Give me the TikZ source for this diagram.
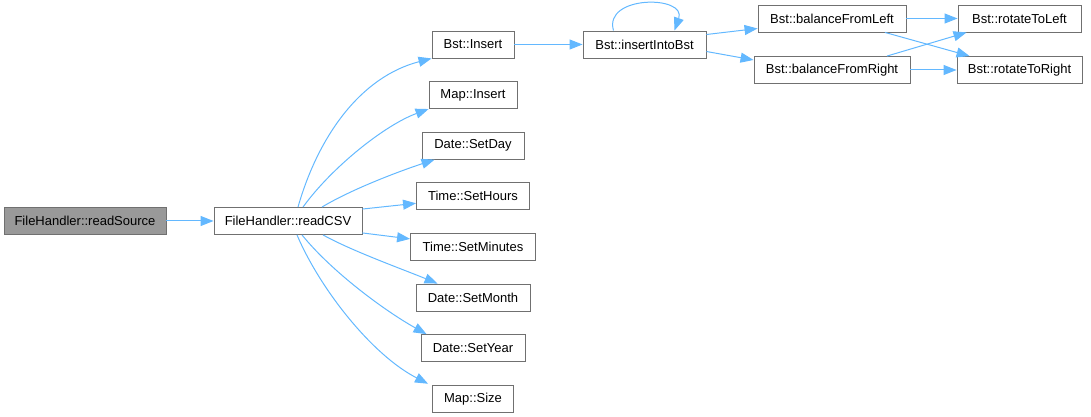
\documentclass[tikz,border=0pt]{standalone}
\usepackage{fontspec}
\setmainfont{Liberation Sans}
\usetikzlibrary{arrows.meta,positioning}

\definecolor{edgeblue}{HTML}{63B8FF}
\definecolor{boxgray}{HTML}{707070}
\definecolor{rootfill}{HTML}{999999}

\begin{document}
\begin{tikzpicture}[x=1pt, y=1pt,
        fn/.style={draw=boxgray, fill=white, rectangle, line width=0.9pt,
            minimum height=27pt, inner sep=2pt, font=\fontsize{13}{15}\selectfont},
        root/.style={fn, fill=rootfill},
        call/.style={draw=edgeblue, line width=1pt,
            -{Triangle[length=13pt, width=10pt]}}]
        \useasboundingbox (0,0) rectangle (1091,417);

        \node[root, minimum width=162pt] (rsrc) at (85,196) {FileHandler::readSource};
        \node[fn, minimum width=148pt] (csv) at (288,196) {FileHandler::readCSV};

        % callees of readCSV
        \node[fn, minimum width=82pt] (binsert) at (473,372.5) {Bst::Insert};
        \node[fn, minimum width=88pt, below of=binsert, node distance=50.6pt] (minsert) {Map::Insert};
        \node[fn, minimum width=102pt, below of=minsert, node distance=50.6pt] (setday) {Date::SetDay};
        \node[fn, minimum width=113pt, below of=setday, node distance=50.6pt] (sethours) {Time::SetHours};
        \node[fn, minimum width=125pt, below of=sethours, node distance=50.6pt] (setmin) {Time::SetMinutes};
        \node[fn, minimum width=114pt, below of=setmin, node distance=50.6pt] (setmonth) {Date::SetMonth};
        \node[fn, minimum width=104pt, below of=setmonth, node distance=50.6pt] (setyear) {Date::SetYear};
        \node[fn, minimum width=81pt, below of=setyear, node distance=50.6pt] (msize) {Map::Size};

        % tree part
        \node[fn, minimum width=123pt] (ibst) at (644.5,372.5) {Bst::insertIntoBst};
        \node[fn, minimum width=148pt] (bfl) at (832,398.5) {Bst::balanceFromLeft};
        \node[fn, minimum width=156pt] (bfr) at (832,347) {Bst::balanceFromRight};
        \node[fn, minimum width=123pt] (rtl) at (1019.5,398.5) {Bst::rotateToLeft};
        \node[fn, minimum width=125pt] (rtr) at (1019.5,347) {Bst::rotateToRight};

        \draw[call] (rsrc) -- (csv);

        \draw[call] ([xshift=10pt]csv.north) .. controls (318,280) and (360,340) .. (binsert.south west);
        \draw[call] ([xshift=15pt]csv.north) .. controls (332,250) and (385,292) .. (minsert.south west);
        \draw[call] ([xshift=34pt]csv.north) .. controls (352,228) and (400,246) .. ([xshift=13pt]setday.south west);
        \draw[call] ([yshift=-2pt]csv.north east) -- ([yshift=-7pt]sethours.west);
        \draw[call] ([yshift=2pt]csv.south east) -- ([yshift=8pt]setmin.west);
        \draw[call] ([xshift=35pt]csv.south) .. controls (352,166) and (402,148) .. ([xshift=22pt]setmonth.north west);
        \draw[call] ([xshift=14pt]csv.south) .. controls (332,145) and (385,106) .. ([xshift=6pt]setyear.north west);
        \draw[call] ([xshift=9pt]csv.south) .. controls (320,128) and (372,62) .. ([xshift=-4pt,yshift=1pt]msize.north west);

        \draw[call] (binsert) -- (ibst);
        \draw[call] ([xshift=-31pt]ibst.north) .. controls (603,422) and (687,422) .. ([xshift=30pt]ibst.north);
        \draw[call] ([yshift=10pt]ibst.east) -- ([yshift=-10pt]bfl.west);
        \draw[call] ([yshift=-7pt]ibst.east) -- ([yshift=10pt]bfr.west);

        \draw[call] (bfl) -- (rtl);
        \draw[call] ([xshift=53pt]bfl.south) -- ([xshift=13pt]rtr.north west);
        \draw[call] ([xshift=55pt]bfr.north) -- ([xshift=9pt]rtl.south west);
        \draw[call] (bfr) -- (rtr);
\end{tikzpicture}
\end{document}
